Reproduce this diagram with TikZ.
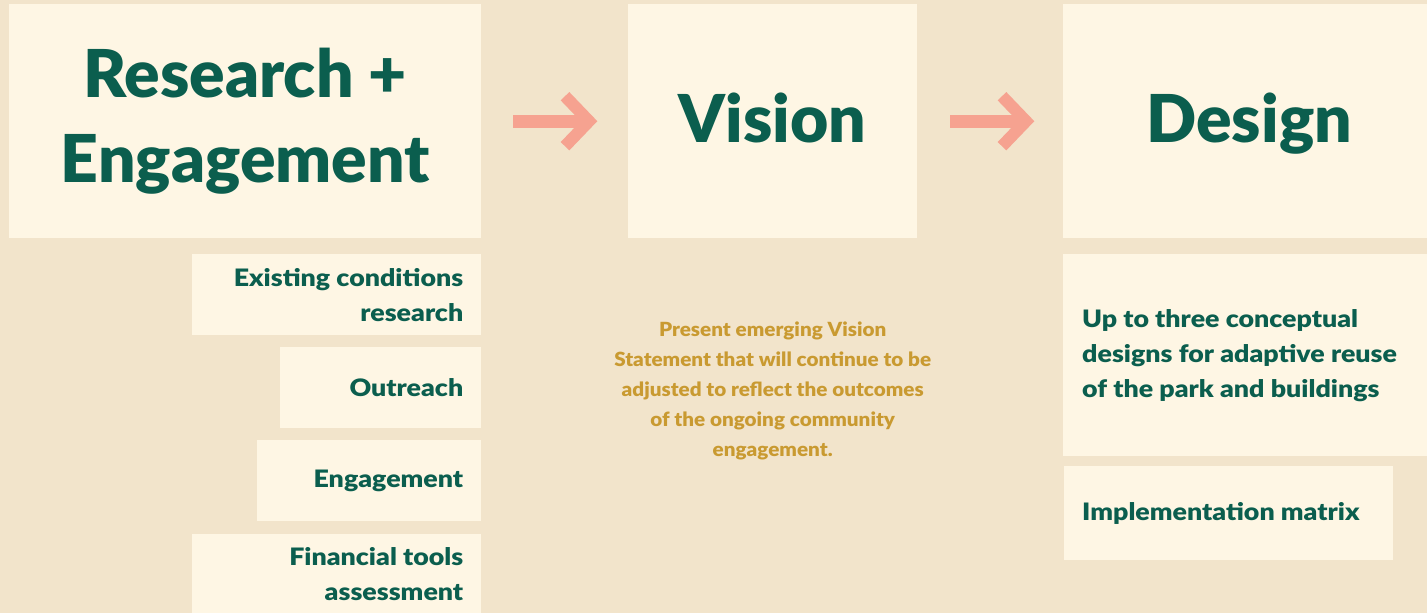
\documentclass[tikz,border=0pt]{standalone}
\usepackage{fontspec}
\setmainfont{Lato}[BoldFont={Lato Black}]
\newfontfamily\descf{Lato}[BoldFont={Lato Black}, FakeStretch=1.06]
\newfontfamily\subf{Lato}[BoldFont={Lato Black}, FakeStretch=1.115]
\usetikzlibrary{calc}
\definecolor{bg}{HTML}{F2E4CB}
\definecolor{boxc}{HTML}{FEF6E4}
\definecolor{grn}{HTML}{0B5E4E}
\definecolor{gold}{HTML}{C99A31}
\definecolor{salmon}{HTML}{F6A290}
\begin{document}
\begin{tikzpicture}[x=1pt,y=-1pt,
 box/.style={fill=boxc, inner sep=0, anchor=north west},
 head/.style={text=grn, font=\fontsize{66}{85}\selectfont\bfseries, align=center, inner sep=0},
 sub/.style={text=grn, font=\subf\fontsize{24}{35}\selectfont\bfseries, inner sep=0},
 desc/.style={text=gold, font=\descf\fontsize{19.5}{30}\selectfont\bfseries, align=center, inner sep=0},
 flow/.style={draw=salmon, line width=13pt},
 chev/.style={draw=salmon, line width=12pt, line join=miter}]
\fill[bg] (0,0) rectangle (1427,613);
\useasboundingbox (0,0) rectangle (1427,613);
% boxes
\node[box, minimum width=472pt, minimum height=234pt] (re) at (9,4) {};
\node[box, minimum width=289pt, minimum height=234pt] (vi) at (628,4) {};
\node[box, minimum width=364pt, minimum height=234pt] (de) at (1063,4) {};
\node[box, minimum width=289pt, minimum height=81pt] (b1) at (192,254) {};
\node[box, minimum width=201pt, minimum height=81pt] (b2) at (280,347) {};
\node[box, minimum width=224pt, minimum height=81pt] (b3) at (257,440) {};
\node[box, minimum width=289pt, minimum height=79pt] (b4) at (192,534) {};
\node[box, minimum width=364pt, minimum height=202pt] (d1) at (1063,254) {};
\node[box, minimum width=329pt, minimum height=94pt] (d2) at (1064,466) {};
% headings
\node[head] (ret) at (re.center) {Research +\\Engagement};
\node[head, anchor=base] (vit) at ($(vi.north)+(0,138)$) {Vision};
\node[head, anchor=base] (det) at ($(de.north)+(4,138)$) {Design};
% sub items
\node[sub, align=right, anchor=east] (b1t) at ($(b1.east)+(-18,0)$) {Existing conditions\\research};
\node[sub, align=right, anchor=east] (b2t) at ($(b2.east)+(-18,0)$) {Outreach};
\node[sub, align=right, anchor=east] (b3t) at ($(b3.east)+(-18,0)$) {Engagement};
\node[sub, align=right, anchor=east] (b4t) at ($(b4.east)+(-18,0)$) {Financial tools\\assessment};
\node[desc] (vdt) at ($(vi.south)+(0,153)$) {Present emerging Vision\\Statement that will continue to be\\adjusted to reflect the outcomes\\of the ongoing community\\engagement.};
\node[sub, align=left, anchor=west] (d1t) at ($(d1.west)+(19,0)$) {Up to three conceptual\\designs for adaptive reuse\\of the park and buildings};
\node[sub, align=left, anchor=west] (d2t) at ($(d2.west)+(18,0)$) {Implementation matrix};
% arrows
\coordinate (a1s) at ($(re.east)+(32,0)$);
\coordinate (a1t) at ($(vi.west)+(-39,0)$);
\draw[flow] (a1s) -- ($(a1t)+(-6,0)$);
\draw[chev] ($(a1t)+(-24,-25)$) -- (a1t) -- ($(a1t)+(-24,25)$);
\coordinate (a2s) at ($(vi.east)+(33,0)$);
\coordinate (a2t) at ($(de.west)+(-37,0)$);
\draw[flow] (a2s) -- ($(a2t)+(-6,0)$);
\draw[chev] ($(a2t)+(-24,-25)$) -- (a2t) -- ($(a2t)+(-24,25)$);
\end{tikzpicture}
\end{document}
